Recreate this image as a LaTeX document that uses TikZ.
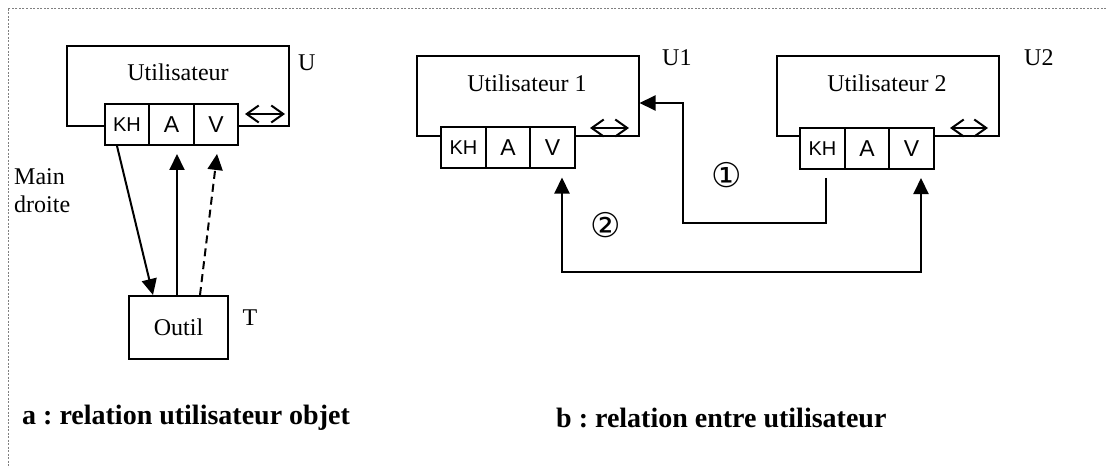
\documentclass[tikz,border=0pt]{standalone}
\usepackage{fontspec}
\setmainfont{Liberation Serif}
\setsansfont{Liberation Sans}
\newfontfamily\circfont{DejaVu Sans}
\usetikzlibrary{arrows.meta}
\frenchspacing
\tikzset{
  >={Triangle[length=16pt,width=15pt]},
  user/.style={draw, line width=2pt, minimum width=222pt, minimum height=80pt, inner sep=0pt},
  cell/.style={draw, fill=white, line width=2pt, minimum width=44.5pt, minimum height=41pt, inner sep=0pt, font=\sffamily\fontsize{23}{25}\selectfont},
  kh/.style={cell, font=\sffamily\fontsize{20}{22}\selectfont},
  txt/.style={font=\fontsize{24}{28}\selectfont, inner sep=0pt},
  legend/.style={font=\bfseries\fontsize{28}{32}\selectfont, inner sep=0pt, anchor=west},
  link/.style={line width=2pt, ->},
  dblarrow/.style={line width=2pt, {Straight Barb[length=12pt,width=17pt]}-{Straight Barb[length=12pt,width=17pt]}},
  circ/.style={font=\circfont\fontsize{34}{36}\selectfont, inner sep=0pt},
}
\begin{document}
\begin{tikzpicture}[x=1pt, y=-1pt]
\useasboundingbox (0,0) rectangle (1106,468);
\draw[gray, line width=0.6pt, dash pattern=on 2pt off 1.5pt] (1106,8) -- (8,8) -- (8,468);

\node[user] (uA) at (178,86.5) {};
\node[txt] (tA) at (178,72) {Utilisateur};
\node[txt, anchor=west] (nA) at (298,63) {U};
\node[kh] (khA) at (127,124.5) {KH};
\node[cell] (aA) at (171.5,124.5) {A};
\node[cell] (vA) at (216,124.5) {V};
\coordinate (dA1) at (245,114);
\coordinate (dA2) at (285,114);
\node[txt, align=left, anchor=west] (hand) at (14,191) {Main\\droite};
\node[draw, line width=2pt, minimum width=99pt, minimum height=63pt, txt] (tool) at (178.5,327.5) {Outil};
\node[txt] (nT) at (250,318) {T};

\node[user] (uB) at (527.5,96) {};
\node[txt] (tB) at (527,83) {Utilisateur 1};
\node[txt, anchor=west] (nB) at (662,58) {U1};
\node[kh] (khB) at (463.5,148) {KH};
\node[cell] (aB) at (508,148) {A};
\node[cell] (vB) at (552.5,148) {V};
\coordinate (dB1) at (590,128);
\coordinate (dB2) at (629,128);

\node[user] (uC) at (887.5,96.5) {};
\node[txt] (tC) at (887,83) {Utilisateur 2};
\node[txt, anchor=west] (nC) at (1024,58) {U2};
\node[kh] (khC) at (822.5,148.5) {KH};
\node[cell] (aC) at (867,148.5) {A};
\node[cell] (vC) at (911.5,148.5) {V};
\coordinate (dC1) at (950,128);
\coordinate (dC2) at (988,128);

\node[circ] (one) at (727,175) {①};
\node[circ] (two) at (606,225) {②};
\coordinate (bend1) at (683,223);
\coordinate (bend2) at (740,272);

\node[legend] (capA) at (22,418) {a : relation utilisateur objet};
\node[legend] (capB) at (556,418) {b : relation entre utilisateur};

\draw[dblarrow] (dA1) -- (dA2);
\draw[dblarrow] (dB1) -- (dB2);
\draw[dblarrow] (dC1) -- (dC2);
\draw[link] ([xshift=-10pt]khA.south) -- ([xshift=-25.5pt]tool.north);
\draw[link, shorten >=8pt] ([xshift=-1.5pt]tool.north) -- ([xshift=5.5pt]aA.south);
\draw[link, dash pattern=on 8pt off 5pt, shorten >=8pt] ([xshift=21.5pt]tool.north) -- ([xshift=2pt]vA.south);
\draw[link] ([xshift=3.5pt,yshift=-8pt]khC.south) |- (bend1) |- ([yshift=-7pt]uB.east);
\draw[link, <->, shorten <=8pt, shorten >=8pt] ([xshift=9.5pt]vB.south) |- (bend2) -| ([xshift=9.5pt]vC.south);
\end{tikzpicture}
\end{document}
